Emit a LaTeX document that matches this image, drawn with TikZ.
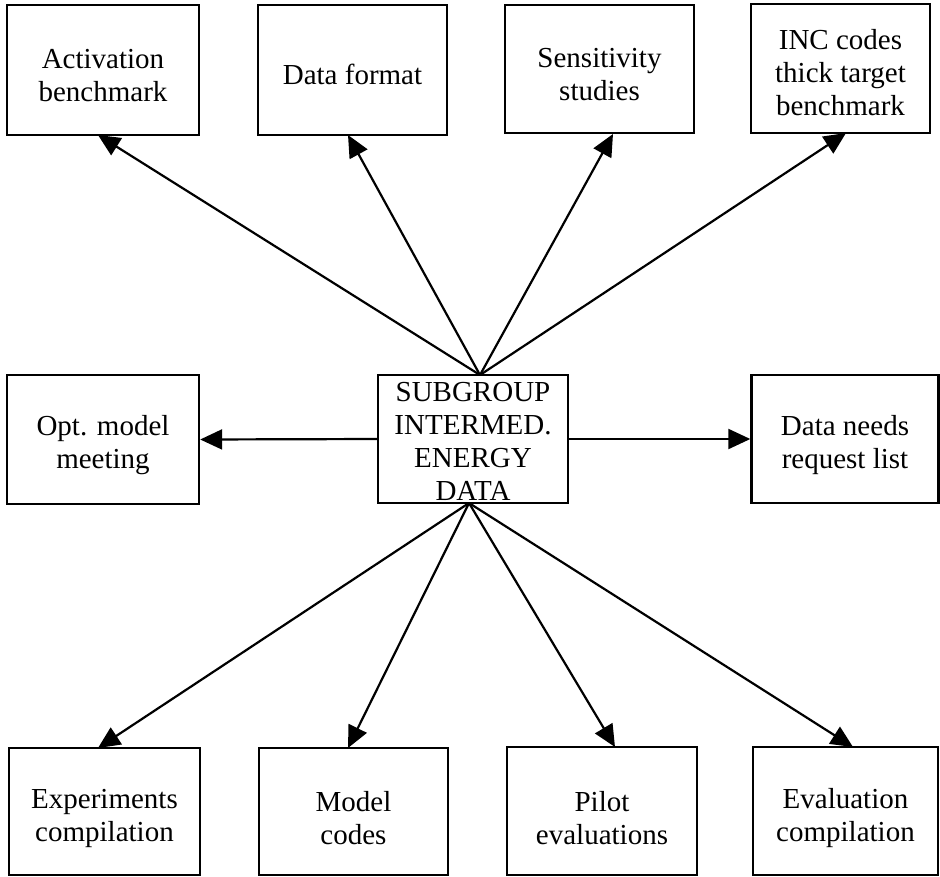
\documentclass[tikz,border=0pt]{standalone}
\usepackage{fontspec}
\setmainfont{Liberation Serif}
\usetikzlibrary{arrows.meta}
\newcommand\mydrop[1]{\rule{0pt}{#1}}
\begin{document}
\begin{tikzpicture}[x=1pt,y=-1pt,
  box/.style={draw,line width=2.4pt,align=center,inner sep=0pt,
    font=\fontsize{29}{33}\selectfont},
  link/.style={line width=2.2pt,-{Triangle[length=22pt,width=20pt]}}]
\useasboundingbox (0,0) rectangle (940,876);
% top row
\node[box,minimum width=192pt,minimum height=130pt] (act) at (103,70) {\mydrop{30pt}Activation\\benchmark};
\node[box,minimum width=189pt,minimum height=130pt] (fmt) at (352.5,70) {\mydrop{30pt}Data format};
\node[box,minimum width=189pt,minimum height=128pt] (sen) at (599.5,69) {\mydrop{30pt}Sensitivity\\studies};
\node[box,minimum width=179pt,minimum height=129pt] (inc) at (840.5,68.5) {\mydrop{28pt}INC codes\\thick target\\benchmark};
% middle row
\node[box,minimum width=192pt,minimum height=129pt] (opt) at (103,439.5) {\mydrop{32pt}Opt. model\\meeting};
\node[box,minimum width=190pt,minimum height=128pt] (sub) at (473,439) {\mydrop{24pt}SUBGROUP\\INTERMED.\\ENERGY\\DATA};
\node[box,minimum width=187pt,minimum height=128pt] (dat) at (845,439) {\mydrop{32pt}Data needs\\request list};
% bottom row
\node[box,minimum width=191pt,minimum height=127pt] (exp) at (104.5,811.5) {\mydrop{34pt}Experiments\\compilation};
\node[box,minimum width=189pt,minimum height=127pt] (mod) at (353.5,811.5) {\mydrop{34pt}Model\\codes};
\node[box,minimum width=190pt,minimum height=128pt] (pil) at (602,811) {\mydrop{34pt}Pilot\\evaluations};
\node[box,minimum width=185pt,minimum height=128pt] (eva) at (845.5,811) {\mydrop{34pt}Evaluation\\compilation};
% connection points
\coordinate (ct) at (480,375);
\coordinate (cb) at (469,503);
\coordinate (tAct) at (98,135);
\coordinate (tFmt) at (348,135);
\coordinate (tSen) at (613,134);
\coordinate (tInc) at (846,133);
\coordinate (tExp) at (98,748);
\coordinate (tMod) at (348,748);
\coordinate (tPil) at (615,747);
\coordinate (tEva) at (853,747);
% connectors
\draw[link] (ct) -- (tAct);
\draw[link] (ct) -- (tFmt);
\draw[link] (ct) -- (tSen);
\draw[link] (ct) -- (tInc);
\draw[link] (sub.west) -- (opt.east);
\draw[link] (sub.east) -- (dat.west);
\draw[link] (cb) -- (tExp);
\draw[link] (cb) -- (tMod);
\draw[link] (cb) -- (tPil);
\draw[link] (cb) -- (tEva);
\end{tikzpicture}
\end{document}
